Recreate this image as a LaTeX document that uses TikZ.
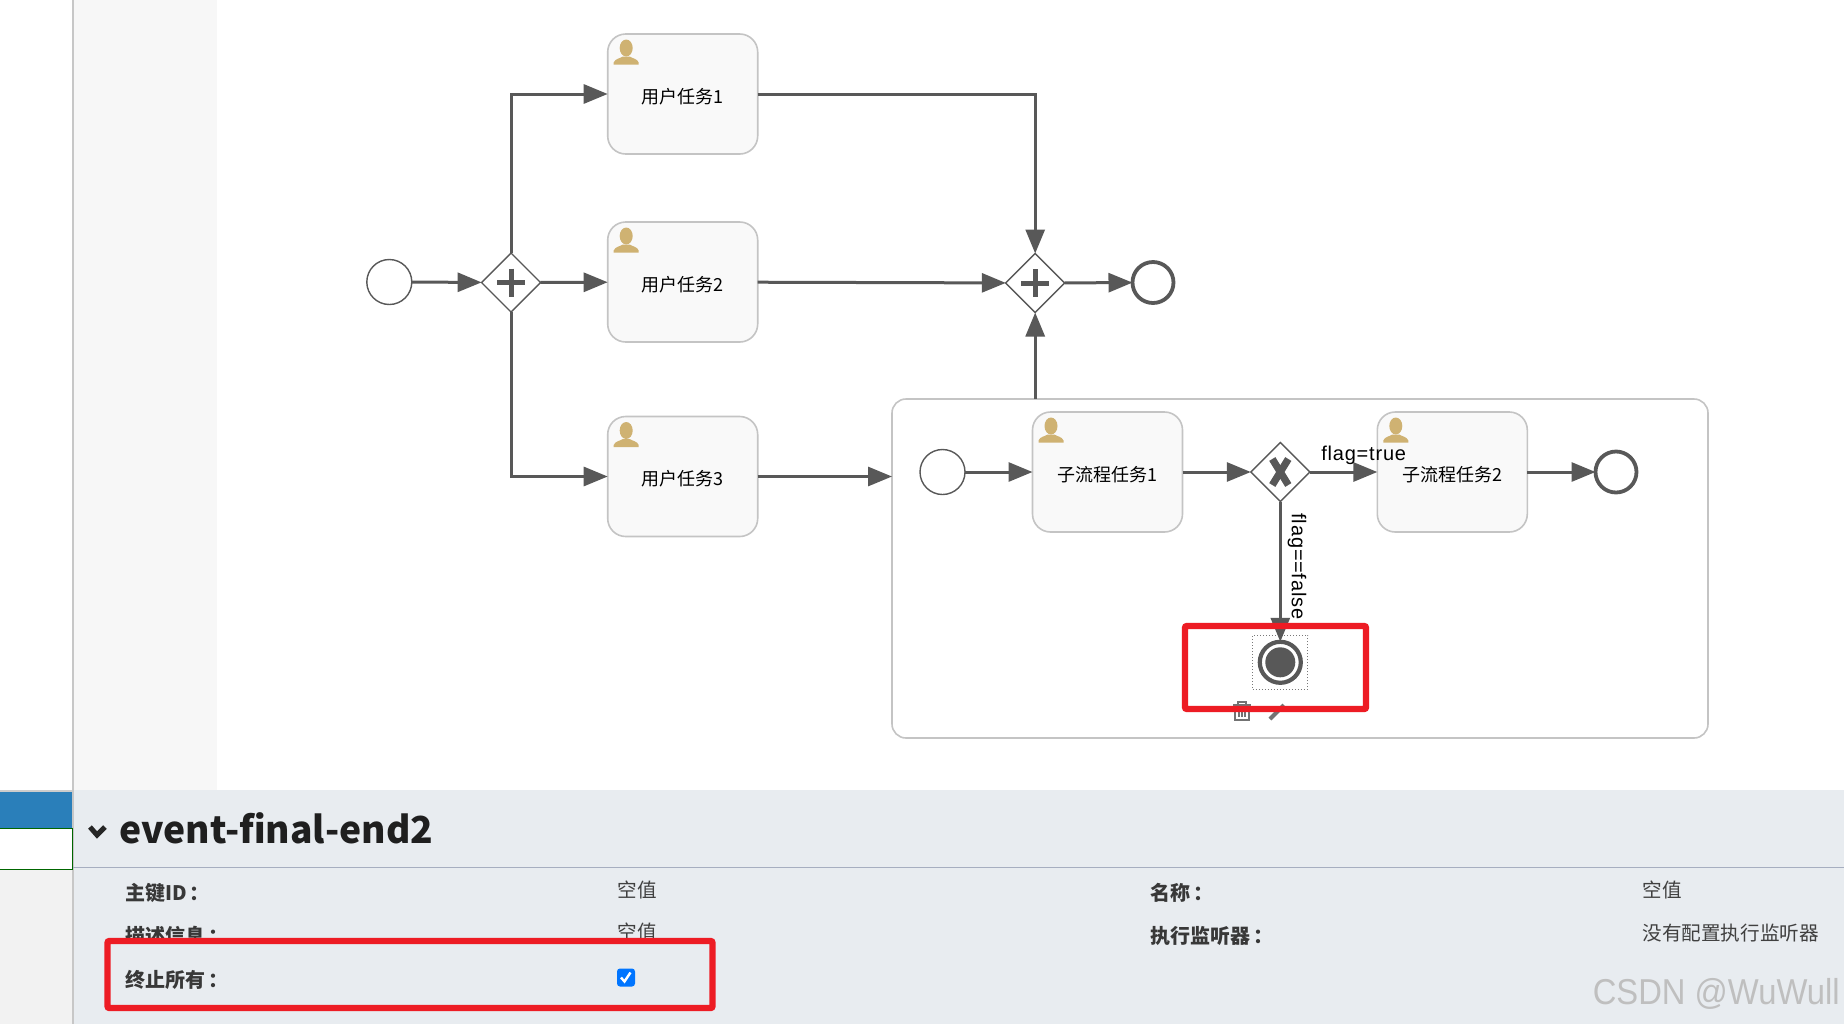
\documentclass[tikz,border=0pt]{standalone}
\usepackage{fontspec}
\setmainfont{Noto Sans CJK SC}
\newfontfamily\latinf{Liberation Sans}
\newfontfamily\flagf[LetterSpace=4]{Liberation Sans}
\usetikzlibrary{arrows.meta,shapes.geometric,calc}
\definecolor{flowc}{HTML}{585858}
\definecolor{iconc}{HTML}{CFB272}
\definecolor{panelc}{HTML}{E8ECF0}
\definecolor{redc}{HTML}{ED1C24}
\definecolor{taskb}{HTML}{C4C4C4}
\definecolor{bluec}{HTML}{2A7FBA}
\definecolor{rulec}{HTML}{A6AEC0}
\definecolor{chkc}{HTML}{0075FF}
\definecolor{taskf}{HTML}{F9F9F9}
\newcommand\tasklab[1]{\raisebox{-4.6pt}[6pt][6pt]{#1}}
\newcommand\labcolon{\kern1.5pt：}
\tikzset{
  flow/.style={draw=flowc,line width=1.5pt,-{Triangle[length=12pt,width=9.5pt]}},
  taskbox/.style={draw=taskb,fill=taskf,line width=0.8pt,rounded corners=9pt,minimum width=75pt,minimum height=60pt,inner sep=0pt,outer sep=0pt,font=\fontsize{9}{10}\selectfont},
  gate/.style={diamond,draw=flowc,fill=white,line width=0.7pt,minimum width=29.5pt,minimum height=29.5pt,aspect=1,inner sep=0pt,outer sep=0pt},
  startev/.style={circle,draw=flowc,fill=white,line width=0.7pt,minimum size=22.5pt,inner sep=0pt,outer sep=0pt},
  endev/.style={circle,draw=flowc,fill=white,line width=1.9pt,minimum size=20.5pt,inner sep=0pt,outer sep=0pt},
  flag/.style={inner sep=0pt,font=\flagf\fontsize{10}{11}\selectfont,text=black},
  lab/.style={anchor=west,inner sep=0pt,text=black!78,font=\fontsize{10}{11}\selectfont\bfseries},
  val/.style={anchor=west,inner sep=0pt,text=black!75,font=\fontsize{9.8}{11}\selectfont},
  redbox/.style={draw=redc,line width=3.2pt,rounded corners=1pt},
  userpic/.pic={
    \fill[iconc] (0,-16.5) ellipse (6.5 and 8.5);
    \fill[iconc] (-12.5,0) -- (-12.5,-2) .. controls (-11,-6) and (-6,-6) .. (-3.5,-8) -- (3.5,-8) .. controls (6,-6) and (11,-6) .. (12.5,-2) -- (12.5,0) -- cycle;
  }
}
\begin{document}
\begin{tikzpicture}[x=0.5pt,y=-0.5pt]
\useasboundingbox (0,0) rectangle (1844,1024);
% page regions
\fill[white] (0,0) rectangle (1844,1024);
\fill[black!3] (73,0) rectangle (217,790);
\fill[panelc] (73,790) rectangle (1844,1024);
\fill[black!5] (0,869.5) rectangle (73,1024);
\fill[black!20] (0,790) rectangle (73,791.5);
\fill[bluec] (0,791.5) rectangle (73,828);
\draw[black!22,line width=0.7pt] (73,0) -- (73,1024);
\draw[green!40!black,line width=0.5pt] (-1,828.5) rectangle (72.5,869.5);
\draw[rulec,line width=0.6pt] (73,867.5) -- (1844,867.5);

% sub-process
\node[draw=taskb,fill=white,line width=0.8pt,rounded corners=7pt,minimum width=408pt,minimum height=169.5pt,inner sep=0pt,outer sep=0pt] (sub) at (1300,568.5) {};

% top-level nodes
\node[startev] (s1) at (389.3,282) {};
\node[gate] (g1) at (511,282.5) {};
\node[taskbox] (t1) at (682.7,94) {\tasklab{用户任务1}};
\node[taskbox] (t2) at (682.7,282) {\tasklab{用户任务2}};
\node[taskbox] (t3) at (682.7,476.5) {\tasklab{用户任务3}};
\node[gate] (g2) at (1035.2,283) {};
\node[endev] (e1) at (1153,282.5) {};

% inside sub-process
\node[startev] (s2) at (942.5,472) {};
\node[taskbox] (st1) at (1107.5,472) {\tasklab{子流程任务1}};
\node[gate] (gx) at (1280.3,472) {};
\node[taskbox] (st2) at (1452.3,472) {\tasklab{子流程任务2}};
\node[endev] (e2) at (1616,472) {};
\node[draw=flowc!80,densely dotted,line width=0.5pt,minimum width=27.5pt,minimum height=27pt,inner sep=0pt,outer sep=0pt] (sel) at (1280.3,662) {};
\node[circle,draw=flowc,fill=white,line width=2.1pt,minimum size=20.5pt,inner sep=0pt,outer sep=0pt] (term) at (1280.3,662.3) {};
\node[circle,fill=flowc,minimum size=15pt,inner sep=0pt] (termdot) at (term.center) {};

% gateway markers
\foreach \g in {g1,g2} {
  \draw[flowc,line width=2.5pt] ($(\g.center)+(-14,0)$) -- ($(\g.center)+(14,0)$);
  \draw[flowc,line width=2.5pt] ($(\g.center)+(0,-14)$) -- ($(\g.center)+(0,14)$);
}
\draw[flowc,line width=3.6pt] ($(gx.center)+(-8,-13)$) -- ($(gx.center)+(8,13)$);
\draw[flowc,line width=3.6pt] ($(gx.center)+(8,-13)$) -- ($(gx.center)+(-8,13)$);

% user icons
\foreach \t in {t1,t2,t3,st1,st2} {
  \path (\t.north west) ++(18.5,30.5) pic {userpic};
}

% connectors
\draw[flow] (s1) -- (g1);
\draw[flow] (g1.north) |- (t1.west);
\draw[flow] (g1) -- (t2);
\draw[flow] (g1.south) |- (t3.west);
\draw[flow] (t1.east) -| (g2.north);
\draw[flow] (t2) -- (g2);
\draw[flow] (g2) -- (e1);
\draw[flow] (t3.east) -- (t3.east -| sub.west);
\draw[flow] (g2.south |- sub.north) -- (g2.south);
\draw[flow] (s2) -- (st1);
\draw[flow] (st1) -- (gx);
\draw[flow] (gx) -- (st2);
\draw[flow] (st2) -- (e2);
\draw[flow] (gx.south) -- (term.north);

\node[flag] (ft) at (1363.7,455) {flag=true};
\node[flag,rotate=-90] (ff) at (1297,566.5) {flag==false};

% delete / edit tools
\draw[black!55,line width=0.6pt] (1235,705) rectangle (1249,720);
\draw[black!55,line width=0.6pt] (1233,705) -- (1251,705) (1238,705) -- (1238,702) -- (1246,702) -- (1246,705) (1239,708) -- (1239,717) (1242,708) -- (1242,717) (1245,708) -- (1245,717);
\draw[black!55,line width=2pt] (1270,719) -- (1284,705);

% bottom panel
\draw[black!85,line width=2.5pt] (90,827) -- (97,835) -- (105,827);
\node[anchor=west,inner sep=0pt,text=black!88,font=\fontsize{18.6}{24}\selectfont\bfseries] (title) at (119,828) {event-final-end2};
\node[lab] (l1) at (125,893) {主键ID\labcolon};
\node[val] (v1) at (617,890) {空值};
\node[lab] (l2) at (125,936) {描述信息\labcolon};
\node[val] (v2) at (617,932) {空值};
\node[lab] (l3) at (1150,893) {名称\labcolon};
\node[val] (v3) at (1642,890) {空值};
\node[lab] (l4) at (1150,936) {执行监听器\labcolon};
\node[val] (v4) at (1642,933) {没有配置执行监听器};
\node[redbox,fill=panelc,minimum width=302.5pt,minimum height=33.5pt,inner sep=0pt] (rb2) at (410,974.5) {};
\node[lab] (l5) at (125,980) {终止所有\labcolon};
\node[fill=chkc,rounded corners=1.5pt,minimum size=9pt,inner sep=0pt] (chk) at (626,977.5) {};
\draw[white,line width=1.2pt] ($(chk.center)+(-5,0)$) -- ($(chk.center)+(-1.5,4)$) -- ($(chk.center)+(4.5,-5)$);
\node[redbox,minimum width=90.5pt,minimum height=41.5pt,inner sep=0pt] (rb1) at (1275.5,667.5) {};
\node[anchor=east,inner sep=0pt,text=black!25,xscale=0.91,font=\latinf\fontsize{18}{20}\selectfont] (wm) at (1840,994) {CSDN @WuWull};
\end{tikzpicture}
\end{document}
